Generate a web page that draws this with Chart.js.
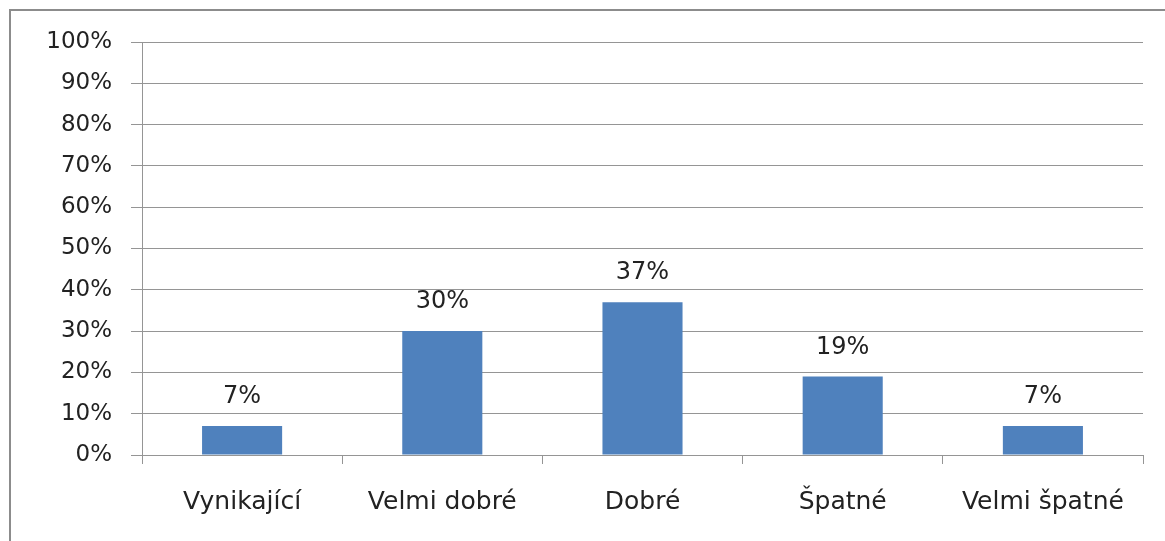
<!DOCTYPE html>
<html>
<head>
<meta charset="utf-8">
<script src="https://cdn.jsdelivr.net/npm/chart.js@4"></script>
<style>
  html, body { margin: 0; padding: 0; background: #fff; overflow: hidden; }
  #wrap { position: relative; width: 1165px; height: 541px; }
  #frame {
    position: absolute; left: 9px; top: 9px; width: 1200px; height: 600px;
    border: 2px solid #8c8c8c; box-sizing: border-box; pointer-events: none;
  }
  canvas { position: absolute; left: 0; top: 0; }
</style>
</head>
<body>
<div id="wrap">
  <canvas id="ratingChart" width="1165" height="541"></canvas>
  <div id="frame"></div>
</div>
<script>
// Hodnocení — rozložení odpovědí
const categories = ['Vynikající', 'Velmi dobré', 'Dobré', 'Špatné', 'Velmi špatné'];
const shares = [7, 30, 37, 19, 7];
const yTicks = [0, 10, 20, 30, 40, 50, 60, 70, 80, 90, 100];

const FONT = { family: 'DejaVu Sans', size: 23 };
const X_FONT = { family: 'DejaVu Sans', size: 25 };
const TEXT = '#222';
const GRID = '#959595';

// labels above each bar
const barLabels = {
  id: 'barLabels',
  afterDatasetsDraw(chart) {
    const { ctx } = chart;
    const meta = chart.getDatasetMeta(0);
    ctx.save();
    ctx.font = `24px ${FONT.family}`;
    ctx.fillStyle = TEXT;
    ctx.textAlign = 'center';
    ctx.textBaseline = 'middle';
    meta.data.forEach((bar, i) => {
      ctx.fillText(shares[i] + '%', bar.x, bar.y - 29);
    });
    ctx.restore();
  }
};

new Chart(document.getElementById('ratingChart'), {
  type: 'bar',
  data: {
    labels: categories,
    datasets: [{
      data: shares,
      backgroundColor: '#4f81bd',
      borderWidth: 0,
      barPercentage: 0.4,
      categoryPercentage: 1
    }]
  },
  options: {
    responsive: false,
    animation: false,
    layout: { padding: { top: 42, right: 22, bottom: 0, left: 0 } },
    plugins: { legend: { display: false }, tooltip: { enabled: false } },
    scales: {
      x: {
        afterFit: s => { s.height = 86; },
        grid: { display: true, drawOnChartArea: false, drawTicks: true, tickLength: 9, color: GRID, offset: true },
        border: { color: GRID, width: 1 },
        ticks: { color: TEXT, font: X_FONT, padding: 23, maxRotation: 0 }
      },
      y: {
        min: 0,
        max: 100,
        afterFit: s => { s.width = 142; },
        afterBuildTicks: s => { s.ticks = yTicks.map(v => ({ value: v })); },
        grid: { color: GRID, tickLength: 11 },
        border: { color: GRID, width: 1 },
        ticks: { color: TEXT, font: FONT, padding: 19, callback: v => v + '%' }
      }
    }
  },
  plugins: [barLabels]
});
</script>
</body>
</html>
